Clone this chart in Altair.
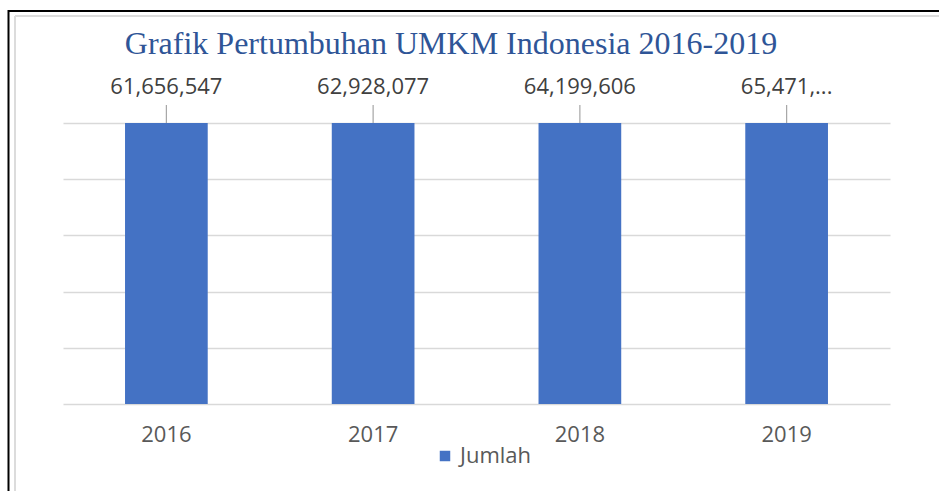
import altair as alt
import pandas as pd

years = ["2016", "2017", "2018", "2019"]
values = [61656547, 62928077, 64199606, 65471135]
labels = ["61,656,547", "62,928,077", "64,199,606", "65,471,..."]
series = ["Jumlah", "Jumlah", "Jumlah", "Jumlah"]
title_text = ["Grafik Pertumbuhan UMKM Indonesia 2016-2019"]

df = pd.DataFrame({"year": years, "value": values, "label": labels, "series": series})

W, H = 827, 281
LEFT, TOP = 63, 123
FONT = "Open Sans"

yscale = alt.Scale(domain=[0, 50000000], clamp=True, nice=False)
xscale = alt.Scale(paddingInner=0.6, paddingOuter=0.3)

xaxis = alt.Axis(labelAngle=0, ticks=False, domain=False, labelPadding=20, grid=False,
                 labelFontSize=22, labelColor="#595959", labelFont=FONT)
yaxis = alt.Axis(labels=False, ticks=False, domain=False,
                 values=[0, 10000000, 20000000, 30000000, 40000000, 50000000],
                 gridColor="#d9d9d9", gridWidth=1.5)

def X():
    return alt.X("year:N", title=None, scale=xscale, axis=xaxis)

def Y():
    return alt.Y("value:Q", title=None, scale=yscale, axis=yaxis)

base = alt.Chart(df)

bars = base.mark_bar(color="#4472C4").encode(
    x=X(), y=Y(),
    color=alt.Color("series:N", title=None,
                    scale=alt.Scale(range=["#4472C4"]),
                    legend=alt.Legend(orient="none", legendX=371, legendY=322,
                                      symbolType="square", symbolSize=110,
                                      labelFontSize=22, labelColor="#595959",
                                      labelFont=FONT, symbolStrokeWidth=0))
)

leaders = base.mark_rule(color="#a6a6a6", strokeWidth=1.2).encode(
    x=X(), y=Y(), y2=alt.value(-18)
)

texts = base.mark_text(fontSize=22, color="#404040", font=FONT, dy=-36).encode(
    x=X(), y=Y(), text="label:N"
)

title = alt.Chart(pd.DataFrame({"t": title_text})).mark_text(
    font="Liberation Serif", fontSize=32, color="#2F5597", baseline="middle", align="center"
).encode(x=alt.value(451 - LEFT), y=alt.value(44 - TOP), text="t:N")

one = pd.DataFrame({"a": [0]})
frame_left = alt.Chart(one).mark_rule(color="#000000", strokeWidth=2, clip=False).encode(
    x=alt.value(8.5 - LEFT), y=alt.value(10 - TOP), y2=alt.value(491 - TOP))
frame_top = alt.Chart(one).mark_rule(color="#000000", strokeWidth=2, clip=False).encode(
    x=alt.value(8 - LEFT), x2=alt.value(939 - LEFT), y=alt.value(11 - TOP))
inner_left = alt.Chart(one).mark_rule(color="#dcdcdc", strokeWidth=2, clip=False).encode(
    x=alt.value(15 - LEFT), y=alt.value(16 - TOP), y2=alt.value(491 - TOP))
inner_top = alt.Chart(one).mark_rule(color="#dcdcdc", strokeWidth=2, clip=False).encode(
    x=alt.value(15 - LEFT), x2=alt.value(939 - LEFT), y=alt.value(16 - TOP))

chart = alt.layer(bars, leaders, texts, title, frame_left, frame_top, inner_left, inner_top).properties(
    width=W, height=H,
    autosize=alt.AutoSizeParams(type="none"),
    padding={"left": LEFT, "top": TOP, "right": 939 - LEFT - W, "bottom": 491 - TOP - H},
).configure(background="white").configure_view(stroke="transparent")

chart.save("out.html", embed_options={"renderer": "svg", "actions": False})
